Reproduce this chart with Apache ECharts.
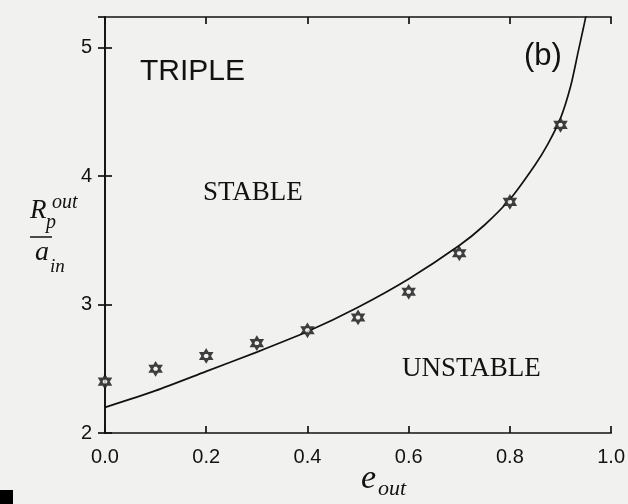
<!DOCTYPE html>
<html>
<head>
<meta charset="utf-8">
<script src="https://cdn.jsdelivr.net/npm/echarts@6/dist/echarts.min.js"></script>
<style>
  html, body { margin: 0; padding: 0; background: #f1f1ef; }
  #chart { width: 628px; height: 504px; }
</style>
</head>
<body>
<div id="chart"></div>
<script>
// Outer eccentricity of the sampled triple systems
const eOut = [0.0, 0.1, 0.2, 0.3, 0.4, 0.5, 0.6, 0.7, 0.8, 0.9];
// Numerically found stability limit R_p^out / a_in (star markers)
const rpNumeric = [2.4, 2.5, 2.6, 2.7, 2.8, 2.9, 3.1, 3.4, 3.8, 4.4];

// Analytic stability boundary (solid curve)
const eCurve = [0.0, 0.1, 0.2, 0.3, 0.4, 0.5, 0.6, 0.7, 0.75, 0.8, 0.85, 0.875, 0.9, 0.92, 0.935, 0.945, 0.952];
const rpCurve = [2.20, 2.33, 2.48, 2.63, 2.79, 2.98, 3.20, 3.46, 3.62, 3.82, 4.09, 4.25, 4.45, 4.70, 4.97, 5.15, 5.28];

// Axis ticks
const xTicks = [0.0, 0.2, 0.4, 0.6, 0.8, 1.0];
const yTicks = [2, 3, 4, 5];

const ink = '#121212';
const paper = '#f1f1ef';
const sans = '"Liberation Sans", Arial, sans-serif';
const serif = '"Liberation Serif", "Times New Roman", serif';

// six-pointed star drawn as two overlapping triangles
const hexagram = 'path://M50,0 L93.3,75 L6.7,75 Z M50,100 L6.7,25 L93.3,25 Z';

const chart = echarts.init(document.getElementById('chart'), null, { renderer: 'canvas' });

const axisLineStyle = { color: ink, width: 1.7 };

function frameAxis(pos, extra) {
  return Object.assign({
    type: 'value',
    position: pos,
    axisLine: { show: true, lineStyle: axisLineStyle },
    axisTick: { show: true, inside: true, length: 7, lineStyle: axisLineStyle },
    splitLine: { show: false }
  }, extra);
}

chart.setOption({
  backgroundColor: paper,
  animation: false,
  grid: { left: 105, right: 9, top: 17, bottom: 71 },
  xAxis: [
    frameAxis('bottom', {
      min: xTicks[0], max: xTicks[xTicks.length - 1], interval: 0.2,
      axisLabel: { color: ink, fontFamily: sans, fontSize: 20, margin: 14,
        formatter: v => v.toFixed(1) }
    }),
    frameAxis('top', {
      min: xTicks[0], max: xTicks[xTicks.length - 1], interval: 0.2,
      axisLabel: { show: false }
    })
  ],
  yAxis: [
    frameAxis('left', {
      min: yTicks[0], max: 5.24, interval: 1,
      axisLabel: { color: ink, fontFamily: sans, fontSize: 20, margin: 13,
        showMaxLabel: false,
        formatter: v => (yTicks.indexOf(v) >= 0 ? String(v) : '') }
    }),
    frameAxis('right', {
      min: yTicks[0], max: 5.24, interval: 1,
      axisLabel: { show: false }
    })
  ],
  series: [
    {
      name: 'boundary',
      type: 'line',
      data: eCurve.map((e, i) => [e, rpCurve[i]]),
      smooth: 0.25,
      showSymbol: false,
      clip: true,
      lineStyle: { color: ink, width: 1.7 },
      z: 2
    },
    {
      name: 'numerical',
      type: 'scatter',
      data: eOut.map((e, i) => [e, rpNumeric[i]]),
      symbol: hexagram,
      symbolSize: [11, 12],
      itemStyle: { color: paper, borderColor: ink, borderWidth: 2 },
      z: 3
    }
  ],
  graphic: [
    { type: 'text', left: 140, top: 57, style: { text: 'TRIPLE', font: '30px ' + sans, fill: ink } },
    { type: 'text', left: 524, top: 41, style: { text: '(b)', font: '31px ' + sans, fill: ink } },
    { type: 'text', left: 203, top: 179, style: { text: 'STABLE', font: '27px ' + serif, fill: ink } },
    { type: 'text', left: 402, top: 355, style: { text: 'UNSTABLE', font: '27px ' + serif, fill: ink } },
    // y-axis title: R_p^out / a_in
    { type: 'text', left: 30, top: 197, style: { text: 'R', font: 'italic 27px ' + serif, fill: ink } },
    { type: 'text', left: 52, top: 193, style: { text: 'out', font: 'italic 20px ' + serif, fill: ink } },
    { type: 'text', left: 46, top: 213, style: { text: 'p', font: 'italic 20px ' + serif, fill: ink } },
    { type: 'line', shape: { x1: 30, y1: 237, x2: 52, y2: 237 }, style: { stroke: ink, lineWidth: 1.5 } },
    { type: 'text', left: 35, top: 239, style: { text: 'a', font: 'italic 28px ' + serif, fill: ink } },
    { type: 'text', left: 50, top: 257, style: { text: 'in', font: 'italic 19px ' + serif, fill: ink } },
    // x-axis title: e_out
    { type: 'text', left: 361, top: 462, style: { text: 'e', font: 'italic 34px ' + serif, fill: ink } },
    { type: 'text', left: 378, top: 478, style: { text: 'out', font: 'italic 22px ' + serif, fill: ink } },
    // dark corner of the scan
    { type: 'rect', shape: { x: 0, y: 490, width: 13, height: 14 }, style: { fill: '#000' } }
  ]
});
</script>
</body>
</html>
